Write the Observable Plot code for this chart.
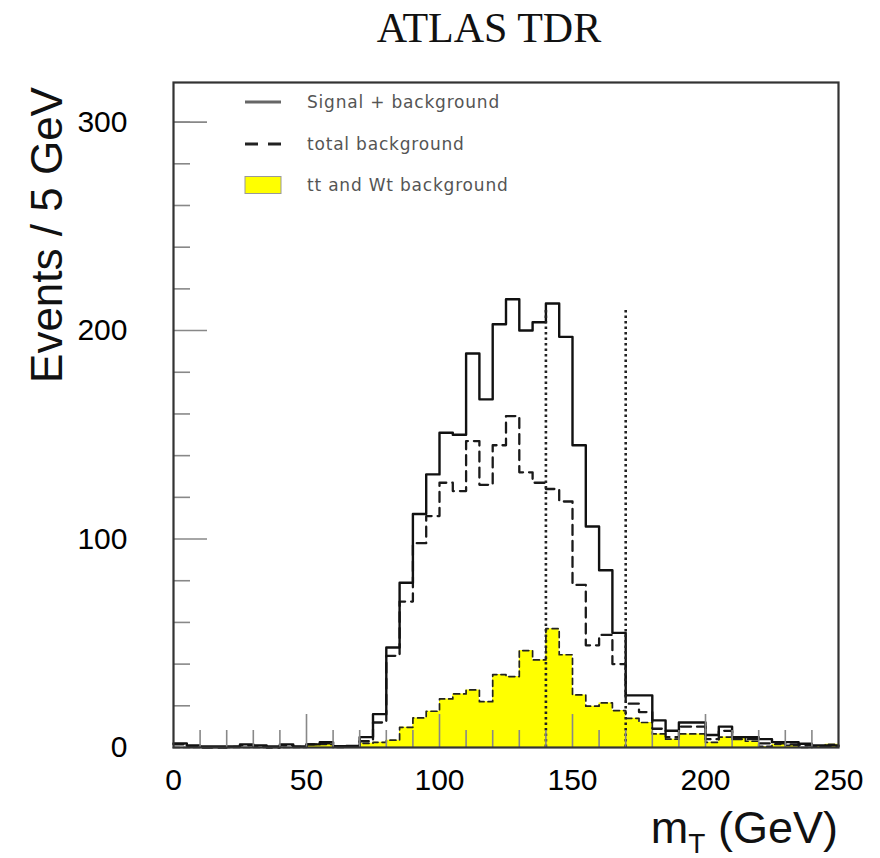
<!DOCTYPE html>
<html><head><meta charset="utf-8">
<script src="https://cdn.jsdelivr.net/npm/d3@7"></script>
<script src="https://cdn.jsdelivr.net/npm/@observablehq/plot@0.6"></script>
<style>
body{margin:0;background:#fff;}
#wrap{position:relative;width:880px;height:858px;}
#wrap svg.overlay{position:absolute;left:0;top:0;pointer-events:none;}
</style></head><body>
<div id="wrap"></div>
<script>
// ---- data ----
const binLow = [0,5,10,15,20,25,30,35,40,45,50,55,60,65,70,75,80,85,90,95,
  100,105,110,115,120,125,130,135,140,145,150,155,160,165,170,175,180,185,190,195,
  200,205,210,215,220,225,230,235,240,245];
const binHigh = 250;
const signalPlusBkg = [2,1,0.5,0.5,0.5,1.5,1,0.5,1.5,0.5,1.5,2.5,0.6,0.8,5,16,48,79,112,131,
  151,150,189,167,203,215,200,204,213,197,145,106,85,55,25,25,13,8,12,12,
  6,10,5,5,4,2.6,2.6,1.8,1,1];
const totalBkg = [1.5,0.5,0,0,0.3,1,0.5,0,1,0.3,1.5,2,0.5,0.5,3,12,44,70,98,111,
  127,123,147,126,145,159,132,127,124,118,78,49,54,40,21,17,9,5,10,10,
  4,8,4,4,2,2,1.5,1,0.5,0.5];
const ttWtBkg = [0,0,0,0,0,0,0,0,0,0,1.5,1.5,0,0.5,2,2.5,3.5,9.7,14.2,17.4,
  23.3,25.7,27.6,22,35,34,46.5,42,57,44.5,25.2,19.8,21.4,17.7,14,12,6.5,4,6.5,6.5,
  2.5,5,5,3,0.5,1.5,1,0,0.5,1.5];
const xTickLabels = [0,50,100,150,200,250];
const yTickLabels = [0,100,200,300];
const xMinorTicks = [10,20,30,40,60,70,80,90,110,120,130,140,160,170,180,190,210,220,230,240];
const xMajorTicks = [50,100,150,200];
const yMinorTicks = [20,40,60,80,120,140,160,180,220,240,260,280,300];
const yMajorTicks = [100,200,300];
const cutLines = [140,170];
const cutLineTop = 210;
const legendLabels = ["Signal + background","total background","tt and Wt background"];
const titleText = "ATLAS TDR";
const yLabel = "Events / 5 GeV";

function steps(vals){
  const pts = binLow.map((x,i)=>({x, y: vals[i]}));
  pts.push({x: binHigh, y: vals[vals.length-1]});
  return pts;
}

const W=880,H=858,mL=173,mR=42,mT=82,mB=111;
const innerW=W-mL-mR, innerH=H-mT-mB;
const tickStyle = {stroke:"#888", strokeWidth:1.6};

const chart = Plot.plot({
  width:W, height:H, marginLeft:mL, marginRight:mR, marginTop:mT, marginBottom:mB,
  style:{fontFamily:"'Liberation Sans', Arial, sans-serif", background:"#fff", color:"#000"},
  x:{domain:[0,250]},
  y:{domain:[0,319]},
  marks:[
    Plot.areaY(steps(ttWtBkg), {x:"x", y:"y", curve:"step-after", fill:"#ffff00"}),
    Plot.lineY(steps(ttWtBkg), {x:"x", y:"y", curve:"step-after", stroke:"#222", strokeWidth:1.7, strokeDasharray:"6,4"}),
    Plot.lineY(steps(totalBkg), {x:"x", y:"y", curve:"step-after", stroke:"#1a1a1a", strokeWidth:2.3, strokeDasharray:"10,6"}),
    Plot.lineY(steps(signalPlusBkg), {x:"x", y:"y", curve:"step-after", stroke:"#111", strokeWidth:2.4}),
    Plot.ruleX(cutLines, {x:d=>d, y1:0, y2:cutLineTop, stroke:"#222", strokeWidth:2.6, strokeDasharray:"2.5,3"}),
    Plot.ruleY(yMinorTicks, {y:d=>d, insetRight:innerW-17, ...tickStyle}),
    Plot.ruleY(yMajorTicks, {y:d=>d, insetRight:innerW-34, ...tickStyle}),
    Plot.ruleX(xMinorTicks, {x:d=>d, insetTop:innerH-17, ...tickStyle}),
    Plot.ruleX(xMajorTicks, {x:d=>d, insetTop:innerH-33, ...tickStyle}),
    Plot.frame({stroke:"#333", strokeWidth:2.2}),
    Plot.axisX({ticks:xTickLabels, tickSize:0, tickPadding:21, fontSize:30, label:null}),
    Plot.axisY({ticks:yTickLabels, tickSize:0, tickPadding:46, fontSize:30, label:null})
  ]
});
const wrap = document.getElementById("wrap");
wrap.appendChild(chart);

// overlay: title, axis titles, legend
const ov = d3.select(wrap).append("svg").attr("class","overlay").attr("width",W).attr("height",H);
ov.append("text").attr("x",489).attr("y",42).attr("text-anchor","middle")
  .attr("font-family","'Liberation Serif', 'DejaVu Serif', serif").attr("font-size",42).attr("fill","#111").text(titleText);
ov.append("text").attr("transform","translate(62,235) rotate(-90)").attr("text-anchor","middle")
  .attr("font-family","'Liberation Sans', Arial, sans-serif").attr("font-size",44).attr("fill","#111").text(yLabel);
const xl = ov.append("text").attr("x",838).attr("y",843).attr("text-anchor","end")
  .attr("font-family","'Liberation Sans', Arial, sans-serif").attr("font-size",45).attr("fill","#111");
xl.append("tspan").text("m");
xl.append("tspan").attr("font-size",28).attr("dy",10).text("T");
xl.append("tspan").attr("dy",-10).text(" (GeV)");

const legY = [102,144,185];
ov.append("line").attr("x1",245).attr("x2",281).attr("y1",legY[0]).attr("y2",legY[0]).attr("stroke","#666").attr("stroke-width",3);
ov.append("line").attr("x1",245).attr("x2",281).attr("y1",legY[1]).attr("y2",legY[1]).attr("stroke","#222").attr("stroke-width",3).attr("stroke-dasharray","13,10");
ov.append("rect").attr("x",245).attr("y",legY[2]-8.5).attr("width",36).attr("height",17).attr("fill","#ffff00").attr("stroke","#999").attr("stroke-width",1);
legendLabels.forEach((t,i)=>{
  ov.append("text").attr("x",307).attr("y",legY[i]).attr("dy","0.35em")
    .attr("font-family","'DejaVu Sans', sans-serif").attr("font-size",17)
    .attr("letter-spacing","0.8px").attr("fill","#555").text(t);
});
</script>
</body></html>
